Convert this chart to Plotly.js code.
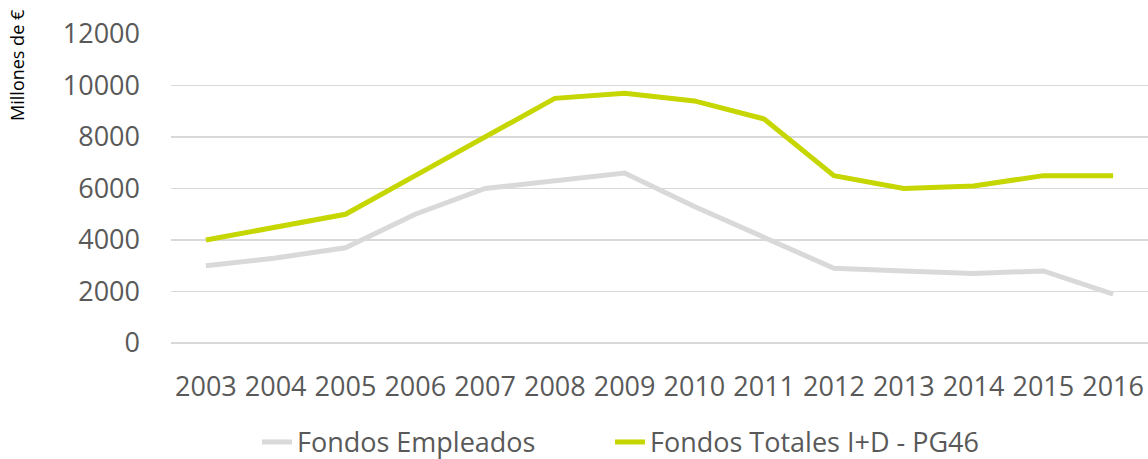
<!DOCTYPE html>
<html>
<head>
<meta charset="utf-8">
<script src="https://cdn.plot.ly/plotly-3.0.1.min.js"></script>
<style>html,body{margin:0;padding:0;background:#fff;}#chart{width:1148px;height:459px;}</style>
</head>
<body>
<div id="chart"></div>
<script>
const years = ["2003","2004","2005","2006","2007","2008","2009","2010","2011","2012","2013","2014","2015","2016"];
const fondosEmpleados = [3000,3300,3700,5000,6000,6300,6600,5300,4100,2900,2800,2700,2800,1900];
const fondosTotales = [4000,4500,5000,6500,8000,9500,9700,9400,8700,6500,6000,6100,6500,6500];
const yTicks = [0,2000,4000,6000,8000,10000,12000];

const traces = [
  {x: years, y: fondosEmpleados, type: 'scatter', mode: 'lines', name: 'Fondos Empleados',
   line: {color: '#D9D9D9', width: 5}, legend: 'legend'},
  {x: years, y: fondosTotales, type: 'scatter', mode: 'lines', name: 'Fondos Totales I+D - PG46',
   line: {color: '#C5D600', width: 5}, legend: 'legend2'}
];

const legendFont = {size: 27, color: '#595959'};
const layout = {
  width: 1148, height: 459,
  margin: {l: 171, r: 0, t: 34, b: 116, autoexpand: false},
  paper_bgcolor: '#fff', plot_bgcolor: '#fff',
  font: {family: 'Open Sans, sans-serif', color: '#595959'},
  showlegend: true,
  legend: {orientation: 'h', x: 0.088, xanchor: 'left', y: -0.401, yanchor: 'bottom',
           font: legendFont, itemwidth: 30, bgcolor: 'rgba(0,0,0,0)'},
  legend2: {orientation: 'h', x: 0.4493, xanchor: 'left', y: -0.401, yanchor: 'bottom',
           font: legendFont, itemwidth: 30, bgcolor: 'rgba(0,0,0,0)'},
  xaxis: {type: 'category', range: [-0.5, 13.5], showgrid: false, zeroline: false, automargin: false,
          showline: false, ticks: '', tickfont: {size: 27, color: '#595959'}, ticklabelstandoff: 25,
          fixedrange: true},
  yaxis: {range: [0, 12000], tickvals: yTicks, ticktext: yTicks.map(String), automargin: false,
          showgrid: true, gridcolor: '#D9D9D9', gridwidth: 1.5, zeroline: true, zerolinecolor: '#D9D9D9', zerolinewidth: 1.5,
          showline: false, ticks: '', tickfont: {size: 27, color: '#595959'}, ticklabelstandoff: 30,
          fixedrange: true},
  annotations: [{
    text: 'Millones de €', xref: 'paper', yref: 'paper', x: -0.1576, y: 0.9,
    xanchor: 'center', yanchor: 'middle', textangle: -90, showarrow: false,
    font: {size: 18, color: '#000', family: 'Open Sans, sans-serif'}
  }]
};

Plotly.newPlot('chart', traces, layout, {displayModeBar: false, staticPlot: true});
</script>
</body>
</html>
